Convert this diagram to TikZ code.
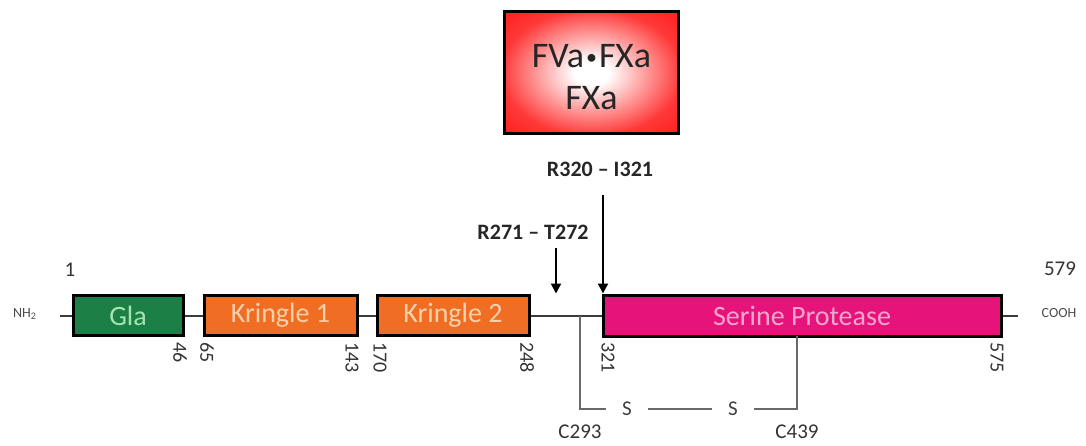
\documentclass[tikz,border=0pt]{standalone}
\usepackage{fontspec}
\setmainfont{Carlito}
\usepackage{xcolor}
\usetikzlibrary{arrows.meta,positioning}
\definecolor{glagreen}{RGB}{28,128,70}
\definecolor{glatext}{RGB}{165,228,175}
\definecolor{krorange}{RGB}{240,110,35}
\definecolor{krtext}{RGB}{252,208,170}
\definecolor{sppink}{RGB}{230,20,122}
\definecolor{sptext}{RGB}{250,165,208}
\definecolor{chain}{RGB}{60,60,60}
\definecolor{bondgray}{RGB}{105,105,105}
\pgfdeclareradialshading{enzglow}{\pgfpoint{0bp}{0bp}}{color(0bp)=(white);
  color(5bp)=(white); color(26bp)=(red!78!white); color(40bp)=(red!92!white);
  color(50bp)=(red!88!black)}
\newcommand{\smalldot}{\kern1pt\raisebox{1.8pt}{\fontsize{11}{11}\selectfont\textbullet}\kern1pt}
\tikzset{
  domainbox/.style={draw=black, line width=1.5pt, minimum height=20pt,
    inner sep=0pt, font=\fontsize{14}{16}\selectfont},
  poslab/.style={rotate=-90, anchor=west, inner sep=0pt,
    font=\fontsize{10}{12}\selectfont, text=black!80},
  cutlab/.style={font=\fontsize{11}{13}\selectfont\bfseries, text=black!85},
  cutarrow/.style={line width=1pt, -{Triangle[width=5pt,length=5pt]}},
  ssbond/.style={bondgray, line width=0.8pt},
  slab/.style={inner xsep=8pt, inner ysep=0pt, font=\fontsize{10.5}{12}\selectfont, text=black!75},
  endlab/.style={font=\fontsize{7}{8}\selectfont, text=black!70}
}

\begin{document}
\begin{tikzpicture}[x=0.5pt, y=-0.5pt]
\useasboundingbox (0,0) rectangle (1086,445);
% activating complex
\node[draw=black, line width=1.5pt, shading=enzglow, minimum width=87pt,
  minimum height=61pt] (enz) at (591.5,72.5) {};
\node[align=center, font=\fontsize{18}{21}\selectfont, text=black!85]
  (enzlab) at ([yshift=-2.5pt]enz.center) {FVa\smalldot FXa\\FXa};
% domains
\node[domainbox, fill=glagreen, text=glatext, minimum width=55pt] (gla) at (128,315.5) {Gla};
\node[domainbox, fill=krorange, text=krtext, minimum width=76.5pt] (kr1) at (280.5,315.5) {Kringle 1};
\node[domainbox, fill=krorange, text=krtext, minimum width=76pt] (kr2) at (453,315.5) {Kringle 2};
\node[domainbox, fill=sppink, text=sptext, minimum width=199pt, minimum height=20.5pt] (sp) at (802,315.5) {Serine Protease};
% chain ends
\node[endlab] (nh) at (25,314) {NH\textsubscript{2}};
\node[endlab] (cooh) at (1059,313) {COOH};
\node[font=\fontsize{10.5}{12}\selectfont, text=black!80] (first) at (70,270) {1};
\node[font=\fontsize{10.5}{12}\selectfont, text=black!80] (last) at (1060,269) {579};
\coordinate (nend) at (60,315.5);
\coordinate (cend) at (1018,315.5);
\draw[chain, line width=1pt] (nend) -- (gla.west) (gla.east) -- (kr1.west)
  (kr1.east) -- (kr2.west) (kr2.east) -- (sp.west) (sp.east) -- (cend);
% residue numbers
\foreach \x/\num in {180/46,207/65,352/143,380/170,527/248,608/321,997/575}
  \node[poslab] (p\num) at (\x,342) {\num};
% cleavage sites
\node[cutlab] (r320) at (600,169) {R320 – I321};
\node[cutlab] (r271) at (533,232) {R271 – T272};
\coordinate (a320) at (603,195);
\coordinate (a271) at (556,248);
\draw[cutarrow] (a320) -- (a320 |- sp.north);
\draw[cutarrow] (a271) -- (a271 |- sp.north);
% disulfide bond
\coordinate (cys293) at (580,315.5);
\coordinate (cys439) at (797,336);
\node[slab] (s1) at (627,409) {S};
\node[slab] (s2) at (733,409) {S};
\draw[ssbond] (cys293) |- (s1.west);
\draw[ssbond] (s1.east) -- (s2.west);
\draw[ssbond] (s2.east) -| (cys439);
\node[font=\fontsize{10.5}{12}\selectfont, text=black!80] (c293) at (580,432) {C293};
\node[font=\fontsize{10.5}{12}\selectfont, text=black!80] (c439) at (797,432) {C439};
\end{tikzpicture}
\end{document}
